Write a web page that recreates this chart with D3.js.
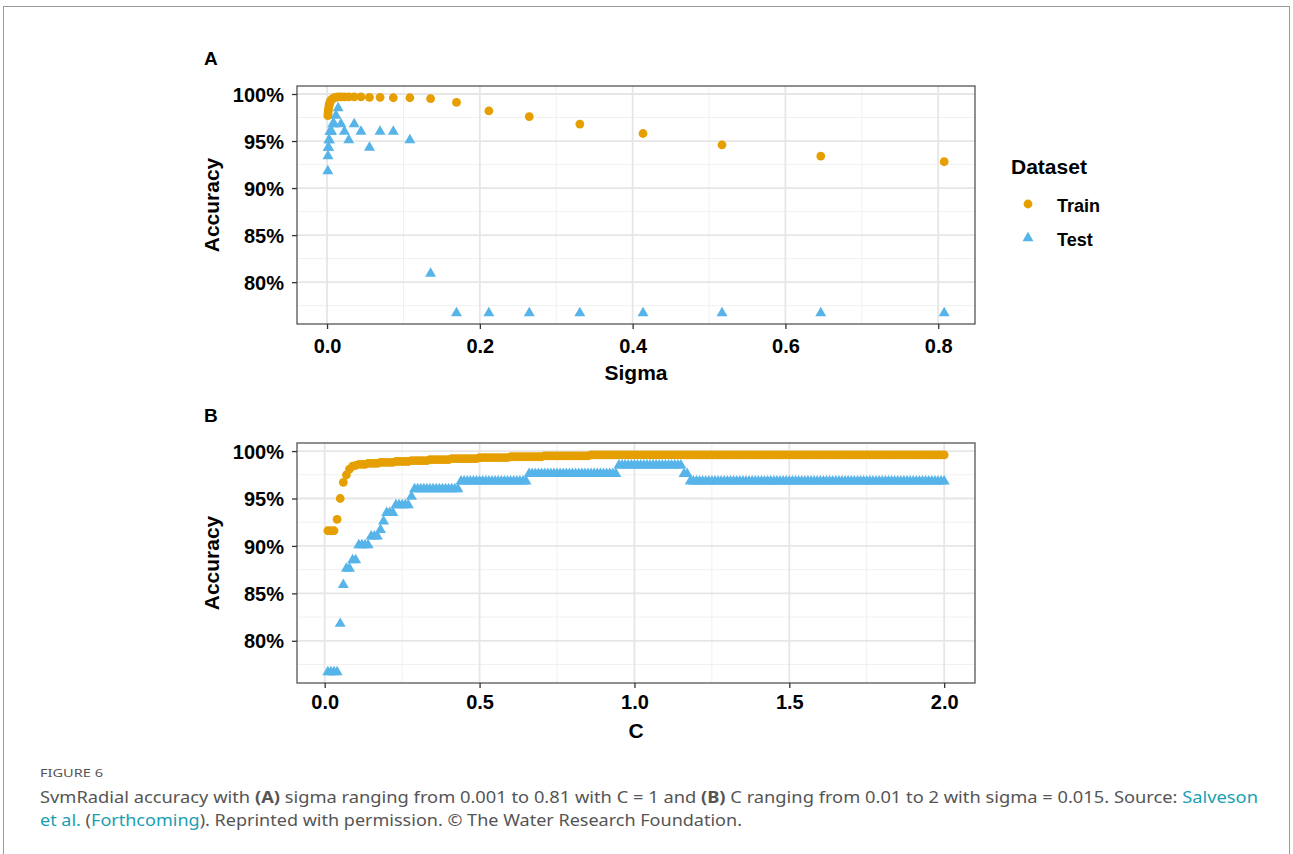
<!DOCTYPE html>
<html>
<head>
<meta charset="utf-8">
<script src="https://cdn.jsdelivr.net/npm/d3@7"></script>
<style>
  body { margin: 0; background: #fff; }
  text { font-family: "Liberation Sans", Arial, sans-serif; }
</style>
</head>
<body>
<div id="chart"></div>
<script>
// panel A: sigma grid (C = 1)
const sigmaValues = [0.001, 0.00125, 0.00156, 0.00195, 0.00244, 0.00305, 0.00381, 0.00477, 0.00596, 0.00745,
  0.00931, 0.01164, 0.01455, 0.01819, 0.02274, 0.02842, 0.03553, 0.04441, 0.05551, 0.06939,
  0.08674, 0.10842, 0.13553, 0.16941, 0.21176, 0.2647, 0.33087, 0.41359, 0.51699, 0.64624, 0.80779];
const trainA = [97.7, 97.9, 98.2, 98.4, 98.7, 98.9, 99.1, 99.3, 99.4, 99.5,
  99.6, 99.65, 99.7, 99.7, 99.7, 99.7, 99.7, 99.7, 99.65, 99.65,
  99.6, 99.6, 99.5, 99.1, 98.2, 97.6, 96.8, 95.8, 94.6, 93.4, 92.8];
const testA = [91.8, 93.4, 94.3, 94.3, 95.1, 95.1, 96.0, 96.0, 96.0, 96.8,
  96.8, 97.7, 98.5, 96.8, 96.0, 95.1, 96.8, 96.0, 94.3, 96.0,
  96.0, 95.1, 80.9, 76.7, 76.7, 76.7, 76.7, 76.7, 76.7, 76.7, 76.7];

// panel B: C grid (sigma = 0.015)
const cValues = [
  0.01, 0.02, 0.03, 0.04, 0.05, 0.06, 0.07, 0.08, 0.09, 0.10,
  0.11, 0.12, 0.13, 0.14, 0.15, 0.16, 0.17, 0.18, 0.19, 0.20,
  0.21, 0.22, 0.23, 0.24, 0.25, 0.26, 0.27, 0.28, 0.29, 0.30,
  0.31, 0.32, 0.33, 0.34, 0.35, 0.36, 0.37, 0.38, 0.39, 0.40,
  0.41, 0.42, 0.43, 0.44, 0.45, 0.46, 0.47, 0.48, 0.49, 0.50,
  0.51, 0.52, 0.53, 0.54, 0.55, 0.56, 0.57, 0.58, 0.59, 0.60,
  0.61, 0.62, 0.63, 0.64, 0.65, 0.66, 0.67, 0.68, 0.69, 0.70,
  0.71, 0.72, 0.73, 0.74, 0.75, 0.76, 0.77, 0.78, 0.79, 0.80,
  0.81, 0.82, 0.83, 0.84, 0.85, 0.86, 0.87, 0.88, 0.89, 0.90,
  0.91, 0.92, 0.93, 0.94, 0.95, 0.96, 0.97, 0.98, 0.99, 1.00,
  1.01, 1.02, 1.03, 1.04, 1.05, 1.06, 1.07, 1.08, 1.09, 1.10,
  1.11, 1.12, 1.13, 1.14, 1.15, 1.16, 1.17, 1.18, 1.19, 1.20,
  1.21, 1.22, 1.23, 1.24, 1.25, 1.26, 1.27, 1.28, 1.29, 1.30,
  1.31, 1.32, 1.33, 1.34, 1.35, 1.36, 1.37, 1.38, 1.39, 1.40,
  1.41, 1.42, 1.43, 1.44, 1.45, 1.46, 1.47, 1.48, 1.49, 1.50,
  1.51, 1.52, 1.53, 1.54, 1.55, 1.56, 1.57, 1.58, 1.59, 1.60,
  1.61, 1.62, 1.63, 1.64, 1.65, 1.66, 1.67, 1.68, 1.69, 1.70,
  1.71, 1.72, 1.73, 1.74, 1.75, 1.76, 1.77, 1.78, 1.79, 1.80,
  1.81, 1.82, 1.83, 1.84, 1.85, 1.86, 1.87, 1.88, 1.89, 1.90,
  1.91, 1.92, 1.93, 1.94, 1.95, 1.96, 1.97, 1.98, 1.99, 2.00];
const trainB = [
  91.6, 91.6, 91.6, 92.8, 95.0, 96.7, 97.5, 98.1, 98.4, 98.5,
  98.6, 98.6, 98.6, 98.7, 98.7, 98.7, 98.7, 98.8, 98.8, 98.8,
  98.8, 98.8, 98.9, 98.9, 98.9, 98.9, 98.9, 99.0, 99.0, 99.0,
  99.0, 99.0, 99.0, 99.1, 99.1, 99.1, 99.1, 99.1, 99.1, 99.1,
  99.2, 99.2, 99.2, 99.2, 99.2, 99.2, 99.2, 99.2, 99.2, 99.3,
  99.3, 99.3, 99.3, 99.3, 99.3, 99.3, 99.3, 99.3, 99.3, 99.4,
  99.4, 99.4, 99.4, 99.4, 99.4, 99.4, 99.4, 99.4, 99.4, 99.4,
  99.5, 99.5, 99.5, 99.5, 99.5, 99.5, 99.5, 99.5, 99.5, 99.5,
  99.5, 99.5, 99.5, 99.5, 99.5, 99.6, 99.6, 99.6, 99.6, 99.6,
  99.6, 99.6, 99.6, 99.6, 99.6, 99.6, 99.6, 99.6, 99.6, 99.6,
  99.6, 99.6, 99.6, 99.6, 99.6, 99.6, 99.6, 99.6, 99.6, 99.6,
  99.6, 99.6, 99.6, 99.6, 99.6, 99.6, 99.6, 99.6, 99.6, 99.6,
  99.6, 99.6, 99.6, 99.6, 99.6, 99.6, 99.6, 99.6, 99.6, 99.6,
  99.6, 99.6, 99.6, 99.6, 99.6, 99.6, 99.6, 99.6, 99.6, 99.6,
  99.6, 99.6, 99.6, 99.6, 99.6, 99.6, 99.6, 99.6, 99.6, 99.6,
  99.6, 99.6, 99.6, 99.6, 99.6, 99.6, 99.6, 99.6, 99.6, 99.6,
  99.6, 99.6, 99.6, 99.6, 99.6, 99.6, 99.6, 99.6, 99.6, 99.6,
  99.6, 99.6, 99.6, 99.6, 99.6, 99.6, 99.6, 99.6, 99.6, 99.6,
  99.6, 99.6, 99.6, 99.6, 99.6, 99.6, 99.6, 99.6, 99.6, 99.6,
  99.6, 99.6, 99.6, 99.6, 99.6, 99.6, 99.6, 99.6, 99.6, 99.6];
const testB = [
  76.7, 76.7, 76.7, 76.7, 81.8, 85.9, 87.6, 87.6, 88.5, 88.5,
  90.1, 90.1, 90.1, 90.1, 91.0, 91.0, 91.0, 91.7, 92.6, 93.5,
  93.5, 93.5, 94.3, 94.3, 94.3, 94.3, 94.3, 95.2, 96.0, 96.0,
  96.0, 96.0, 96.0, 96.0, 96.0, 96.0, 96.0, 96.0, 96.0, 96.0,
  96.0, 96.0, 96.0, 96.8, 96.8, 96.8, 96.8, 96.8, 96.8, 96.8,
  96.8, 96.8, 96.8, 96.8, 96.8, 96.8, 96.8, 96.8, 96.8, 96.8,
  96.8, 96.8, 96.8, 96.8, 96.8, 97.6, 97.6, 97.6, 97.6, 97.6,
  97.6, 97.6, 97.6, 97.6, 97.6, 97.6, 97.6, 97.6, 97.6, 97.6,
  97.6, 97.6, 97.6, 97.6, 97.6, 97.6, 97.6, 97.6, 97.6, 97.6,
  97.6, 97.6, 97.6, 97.6, 98.5, 98.5, 98.5, 98.5, 98.5, 98.5,
  98.5, 98.5, 98.5, 98.5, 98.5, 98.5, 98.5, 98.5, 98.5, 98.5,
  98.5, 98.5, 98.5, 98.5, 98.5, 97.6, 97.6, 96.8, 96.8, 96.8,
  96.8, 96.8, 96.8, 96.8, 96.8, 96.8, 96.8, 96.8, 96.8, 96.8,
  96.8, 96.8, 96.8, 96.8, 96.8, 96.8, 96.8, 96.8, 96.8, 96.8,
  96.8, 96.8, 96.8, 96.8, 96.8, 96.8, 96.8, 96.8, 96.8, 96.8,
  96.8, 96.8, 96.8, 96.8, 96.8, 96.8, 96.8, 96.8, 96.8, 96.8,
  96.8, 96.8, 96.8, 96.8, 96.8, 96.8, 96.8, 96.8, 96.8, 96.8,
  96.8, 96.8, 96.8, 96.8, 96.8, 96.8, 96.8, 96.8, 96.8, 96.8,
  96.8, 96.8, 96.8, 96.8, 96.8, 96.8, 96.8, 96.8, 96.8, 96.8,
  96.8, 96.8, 96.8, 96.8, 96.8, 96.8, 96.8, 96.8, 96.8, 96.8];

const yTicks = [80, 85, 90, 95, 100];
const yMinor = [77.5, 82.5, 87.5, 92.5, 97.5];
const xTicksA = [0, 0.2, 0.4, 0.6, 0.8];
const xMinorA = [0.1, 0.3, 0.5, 0.7];
const xTicksB = [0, 0.5, 1, 1.5, 2];
const xMinorB = [0.25, 0.75, 1.25, 1.75];
const seriesNames = ["Train", "Test"];

const width = 1293;
const height = 854;
const trainColor = "#E69F00";
const testColor = "#56B4E9";

const svg = d3
  .select("#chart")
  .append("svg")
  .attr("width", width)
  .attr("height", height);

// outer frame of the figure
svg
  .append("rect")
  .attr("x", 3.5)
  .attr("y", 6.5)
  .attr("width", 1286)
  .attr("height", 860)
  .attr("fill", "none")
  .attr("stroke", "#9a9a9a")
  .attr("stroke-width", 1);

const triangle = d3.symbol().type(d3.symbolTriangle).size(52);

// ggplot style 5% expansion
function expand(lo, hi) {
  const pad = (hi - lo) * 0.05;
  return [lo - pad, hi + pad];
}

function drawPanel(p) {
  const x = d3.scaleLinear().domain(expand(d3.min(p.xs), d3.max(p.xs))).range([p.left, p.right]);
  const yLo = Math.min(d3.min(p.train), d3.min(p.test));
  const yHi = Math.max(d3.max(p.train), d3.max(p.test));
  const y = d3.scaleLinear().domain(expand(yLo, 99.7)).range([p.bottom, p.top]);

  const g = svg.append("g");

  // minor grid
  g.selectAll(".vminor").data(p.xMinor).enter().append("line")
    .attr("x1", (d) => x(d)).attr("x2", (d) => x(d))
    .attr("y1", p.top).attr("y2", p.bottom)
    .attr("stroke", "#f0f0f0").attr("stroke-width", 1);
  g.selectAll(".hminor").data(yMinor).enter().append("line")
    .attr("x1", p.left).attr("x2", p.right)
    .attr("y1", (d) => y(d)).attr("y2", (d) => y(d))
    .attr("stroke", "#f0f0f0").attr("stroke-width", 1);
  // major grid
  g.selectAll(".vmajor").data(p.xTicks).enter().append("line")
    .attr("x1", (d) => x(d)).attr("x2", (d) => x(d))
    .attr("y1", p.top).attr("y2", p.bottom)
    .attr("stroke", "#e6e6e6").attr("stroke-width", 1.8);
  g.selectAll(".hmajor").data(yTicks).enter().append("line")
    .attr("x1", p.left).attr("x2", p.right)
    .attr("y1", (d) => y(d)).attr("y2", (d) => y(d))
    .attr("stroke", "#e6e6e6").attr("stroke-width", 1.8);

  // points
  g.selectAll(".train").data(p.xs).enter().append("circle")
    .attr("cx", (d) => x(d))
    .attr("cy", (d, i) => y(p.train[i]))
    .attr("r", 4.4)
    .attr("fill", trainColor);
  g.selectAll(".test").data(p.xs).enter().append("path")
    .attr("d", triangle)
    .attr("transform", (d, i) => "translate(" + x(d) + "," + y(p.test[i]) + ")")
    .attr("fill", testColor);

  // panel border
  g.append("rect")
    .attr("x", p.left).attr("y", p.top)
    .attr("width", p.right - p.left).attr("height", p.bottom - p.top)
    .attr("fill", "none").attr("stroke", "#555").attr("stroke-width", 1.3);

  // axes
  const xAxis = g.append("g")
    .attr("transform", "translate(0," + p.bottom + ")")
    .call(d3.axisBottom(x).tickValues(p.xTicks).tickFormat(d3.format(".1f")).tickSize(5).tickPadding(p.xPad));
  const yAxis = g.append("g")
    .attr("transform", "translate(" + p.left + ",0)")
    .call(d3.axisLeft(y).tickValues(yTicks).tickFormat((d) => d + "%").tickSize(5).tickPadding(8));
  [xAxis, yAxis].forEach((a) => {
    a.select(".domain").remove();
    a.selectAll(".tick line").attr("stroke", "#333").attr("stroke-width", 1.3);
    a.selectAll(".tick text")
      .attr("fill", "#000")
      .style("font-family", "'Liberation Sans', Arial, sans-serif")
      .style("font-size", "20px")
      .style("font-weight", "bold");
  });
  yAxis.selectAll(".tick text").attr("dy", "0.36em");

  // titles
  g.append("text")
    .attr("x", (p.left + p.right) / 2)
    .attr("y", p.bottom + p.titleGap)
    .attr("text-anchor", "middle")
    .style("font-size", "21px").style("font-weight", "bold")
    .text(p.xTitle);
  g.append("text")
    .attr("transform", "translate(219," + (p.top + p.bottom) / 2 + ") rotate(-90)")
    .attr("text-anchor", "middle")
    .style("font-size", "21px").style("font-weight", "bold")
    .text("Accuracy");
  g.append("text")
    .attr("x", 204)
    .attr("y", p.top - 21)
    .style("font-size", "19px").style("font-weight", "bold")
    .text(p.tag);
}

drawPanel({
  xs: sigmaValues, train: trainA, test: testA,
  xTicks: xTicksA, xMinor: xMinorA,
  left: 297, right: 975, top: 86, bottom: 324,
  xTitle: "Sigma", tag: "A", xPad: 10, titleGap: 56
});
drawPanel({
  xs: cValues, train: trainB, test: testB,
  xTicks: xTicksB, xMinor: xMinorB,
  left: 297, right: 975, top: 443, bottom: 683,
  xTitle: "C", tag: "B", xPad: 7, titleGap: 55
});

// legend
const legend = svg.append("g").attr("transform", "translate(1011,0)");
legend.append("text")
  .attr("x", 0).attr("y", 174)
  .style("font-size", "21px").style("font-weight", "bold")
  .text("Dataset");
const item = legend.selectAll(".legend").data(seriesNames).enter().append("g")
  .attr("class", "legend")
  .attr("transform", (d, i) => "translate(0," + (205 + i * 34) + ")");
item.filter((d) => d === "Train").append("circle")
  .attr("cx", 17).attr("cy", -1).attr("r", 4.4).attr("fill", trainColor);
item.filter((d) => d === "Test").append("path")
  .attr("d", triangle).attr("transform", "translate(17,-1)").attr("fill", testColor);
item.append("text")
  .attr("x", 46).attr("y", 7)
  .style("font-size", "18px").style("font-weight", "bold")
  .text((d) => d);

// caption
const cap = svg.append("g");
cap.append("text")
  .attr("x", 40).attr("y", 777)
  .attr("fill", "#555")
  .style("font-family", "'Noto Sans', sans-serif")
  .style("font-size", "11.5px")
  .attr("textLength", 63).attr("lengthAdjust", "spacingAndGlyphs")
  .text("FIGURE 6");

const line1 = cap.append("text")
  .attr("x", 40).attr("y", 803)
  .attr("fill", "#555")
  .style("font-family", "'Noto Sans', sans-serif")
  .style("font-size", "16px")
  .attr("textLength", 1218).attr("lengthAdjust", "spacingAndGlyphs");
line1.append("tspan").text("SvmRadial accuracy with ");
line1.append("tspan").style("font-weight", "bold").text("(A)");
line1.append("tspan").text(" sigma ranging from 0.001 to 0.81 with C = 1 and ");
line1.append("tspan").style("font-weight", "bold").text("(B)");
line1.append("tspan").text(" C ranging from 0.01 to 2 with sigma = 0.015. Source: ");
line1.append("tspan").attr("fill", "#1a9fb3").text("Salveson");

const line2 = cap.append("text")
  .attr("x", 40).attr("y", 826)
  .attr("fill", "#555")
  .style("font-family", "'Noto Sans', sans-serif")
  .style("font-size", "16px")
  .attr("textLength", 702).attr("lengthAdjust", "spacingAndGlyphs");
line2.append("tspan").attr("fill", "#1a9fb3").text("et al.");
line2.append("tspan").text(" (");
line2.append("tspan").attr("fill", "#1a9fb3").text("Forthcoming");
line2.append("tspan").text("). Reprinted with permission. © The Water Research Foundation.");
</script>
</body>
</html>
